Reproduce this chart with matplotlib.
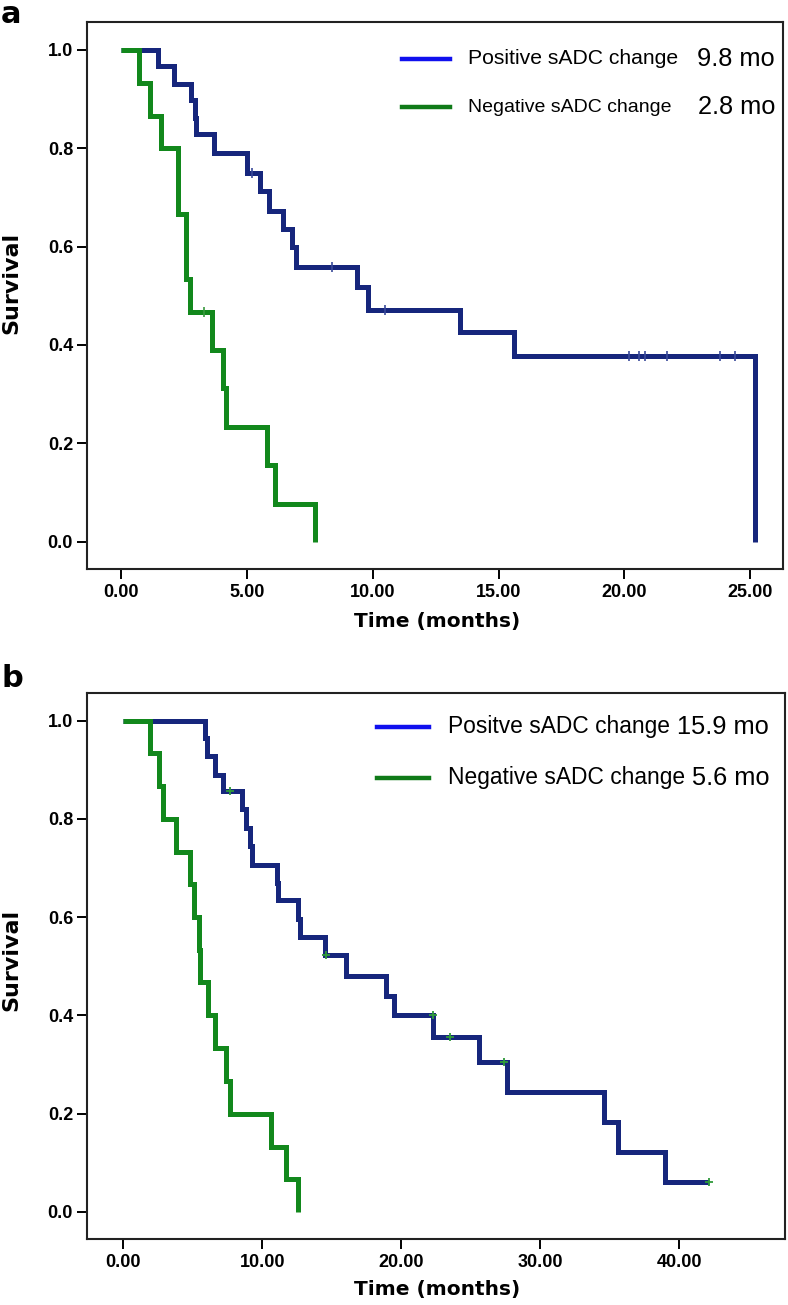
import numpy as np
import matplotlib.pyplot as plt
from matplotlib.ticker import FormatStrFormatter

# panel a: Kaplan-Meier steps (time in months, survival after event)
a_pos_t = [0, 1.46, 2.12, 2.8, 2.94, 3.0, 3.7, 4.99, 5.52, 5.89, 6.42, 6.79, 6.97,
           9.39, 9.81, 13.48, 15.6, 25.17]
a_pos_s = [1.0, 0.966, 0.931, 0.897, 0.862, 0.828, 0.790, 0.750, 0.712, 0.673, 0.636,
           0.599, 0.558, 0.517, 0.472, 0.426, 0.378, 0.0]
a_pos_cens_t = [5.19, 8.37, 10.48, 20.17, 20.57, 20.83, 21.69, 23.8, 24.38]
a_pos_cens_s = [0.750, 0.558, 0.472, 0.378, 0.378, 0.378, 0.378, 0.378, 0.378]

a_neg_t = [0, 0.73, 1.15, 1.57, 2.27, 2.6, 2.75, 3.6, 4.04, 4.19, 5.81, 6.11, 7.7]
a_neg_s = [1.0, 0.933, 0.866, 0.80, 0.667, 0.533, 0.467, 0.389, 0.312, 0.234, 0.156, 0.078, 0.0]
a_neg_cens_t = [3.3]
a_neg_cens_s = [0.467]

# panel b
b_pos_t = [0, 5.89, 6.0, 6.6, 7.2, 8.57, 8.82, 9.13, 9.3, 11.05, 11.17, 12.6, 12.7, 14.5,
           16.0, 18.93, 19.45, 22.3, 25.6, 27.6, 34.6, 35.6, 38.97, 42.1]
b_pos_s = [1.0, 0.964, 0.927, 0.890, 0.856, 0.819, 0.781, 0.744, 0.707, 0.670, 0.634,
           0.597, 0.560, 0.522, 0.481, 0.440, 0.400, 0.357, 0.306, 0.245, 0.184, 0.123,
           0.062, 0.062]
b_pos_cens_t = [7.7, 14.6, 22.25, 23.5, 27.4, 42.1]
b_pos_cens_s = [0.856, 0.522, 0.400, 0.357, 0.306, 0.062]

b_neg_t = [0, 1.92, 2.57, 2.84, 3.77, 4.8, 5.07, 5.45, 5.53, 6.08, 6.6, 7.4, 7.69, 10.64,
           11.72, 12.56]
b_neg_s = [1.0, 0.933, 0.867, 0.80, 0.733, 0.667, 0.60, 0.533, 0.467, 0.40, 0.333, 0.267,
           0.20, 0.133, 0.067, 0.0]

a_labels = ["Positive sADC change", "Negative sADC change"]
a_medians = ["9.8 mo", "2.8 mo"]
b_labels = ["Positve sADC change", "Negative sADC change"]
b_medians = ["15.9 mo", "5.6 mo"]

BLUE = "#16267c"
GREEN = "#12881c"
LEG_BLUE = "#1010ee"
LEG_GREEN = "#0f7a18"

W, H = 788, 1305
fig = plt.figure(figsize=(W / 100, H / 100), dpi=100)
plt.rcParams["font.family"] = ["DejaVu Sans"]


def px_axes(l, r, t, b):
    return fig.add_axes([l / W, 1 - b / H, (r - l) / W, (b - t) / H])


def style(ax, xlim, xticks):
    ax.set_xlim(xlim)
    ax.set_ylim(-0.055, 1.056)
    ax.set_xticks(xticks)
    ax.set_yticks(np.arange(0, 1.01, 0.2))
    ax.xaxis.set_major_formatter(FormatStrFormatter("%.2f"))
    ax.yaxis.set_major_formatter(FormatStrFormatter("%.1f"))
    ax.tick_params(direction="out", length=7, width=1.4, labelsize=13)
    ax.tick_params(axis="y", pad=3)
    ax.tick_params(axis="x", pad=4)
    for lab in ax.get_xticklabels() + ax.get_yticklabels():
        lab.set_fontweight("bold")
        lab.set_family("Liberation Sans")
    for sp in ax.spines.values():
        sp.set_linewidth(1.5)
        sp.set_color("#222222")


def km(ax, t, s, color):
    ax.plot(t, s, drawstyle="steps-post", color=color, lw=3.6,
            solid_joinstyle="miter", solid_capstyle="butt")


# ---- panel a ----
ax1 = px_axes(87, 783, 22, 569)
km(ax1, a_pos_t, a_pos_s, BLUE)
km(ax1, a_neg_t, a_neg_s, GREEN)
ax1.plot(a_pos_cens_t, a_pos_cens_s, ls="none", marker="|", ms=7, mew=1.2, color="#3a4a9a")
ax1.plot(a_neg_cens_t, a_neg_cens_s, ls="none", marker="|", ms=7, mew=1.2, color="#3a9a40")
style(ax1, (-1.35, 26.3), np.arange(0, 26, 5))

# legend a (drawn by hand to match the original layout)
for yy, c in zip([59, 107], [LEG_BLUE, LEG_GREEN]):
    fig.add_artist(plt.Line2D([402 / W, 450 / W], [1 - yy / H] * 2, color=c, lw=3.2))
for yy, lab, med, fs in zip([59, 107], a_labels, a_medians, [15.2, 14.0]):
    fig.text(468 / W, 1 - yy / H, lab, family="Liberation Sans", fontsize=fs,
             va="center", ha="left")
    fig.text(775 / W, 1 - yy / H, med, family="Liberation Sans", fontsize=18.3,
             va="center", ha="right")

fig.text(1 / W, 1.0, "a", fontsize=22, fontweight="bold", va="top", ha="left")
fig.text(437 / W, 1 - 622 / H, "Time (months)", fontsize=14.5, fontweight="bold",
         va="center", ha="center")
fig.text(11 / W, 1 - 283 / H, "Survival", fontsize=16, fontweight="bold",
         va="center", ha="center", rotation=90)

# ---- panel b ----
ax2 = px_axes(87, 785, 693, 1239)
km(ax2, b_pos_t, b_pos_s, BLUE)
km(ax2, b_neg_t, b_neg_s, GREEN)
ax2.plot(b_pos_cens_t, b_pos_cens_s, ls="none", marker="+", ms=6, mew=1.3, color="#2f9a3a")
style(ax2, (-2.6, 47.6), np.arange(0, 41, 10))

for yy, c in zip([727, 778], [LEG_BLUE, LEG_GREEN]):
    fig.add_artist(plt.Line2D([377 / W, 429 / W], [1 - yy / H] * 2, color=c, lw=3.2))
for yy, lab, med in zip([727, 778], b_labels, b_medians):
    fig.text(448 / W, 1 - yy / H, lab, family="Liberation Sans", fontsize=16.4,
             va="center", ha="left")
    fig.text(769 / W, 1 - yy / H, med, family="Liberation Sans", fontsize=18.3,
             va="center", ha="right")

fig.text(1 / W, 1 - 664 / H, "b", fontsize=22, fontweight="bold", va="top", ha="left")
fig.text(437 / W, 1 - 1290 / H, "Time (months)", fontsize=14.5, fontweight="bold",
         va="center", ha="center")
fig.text(11 / W, 1 - 960 / H, "Survival", fontsize=16, fontweight="bold",
         va="center", ha="center", rotation=90)

fig.savefig("out.png", dpi=100, facecolor="white")
